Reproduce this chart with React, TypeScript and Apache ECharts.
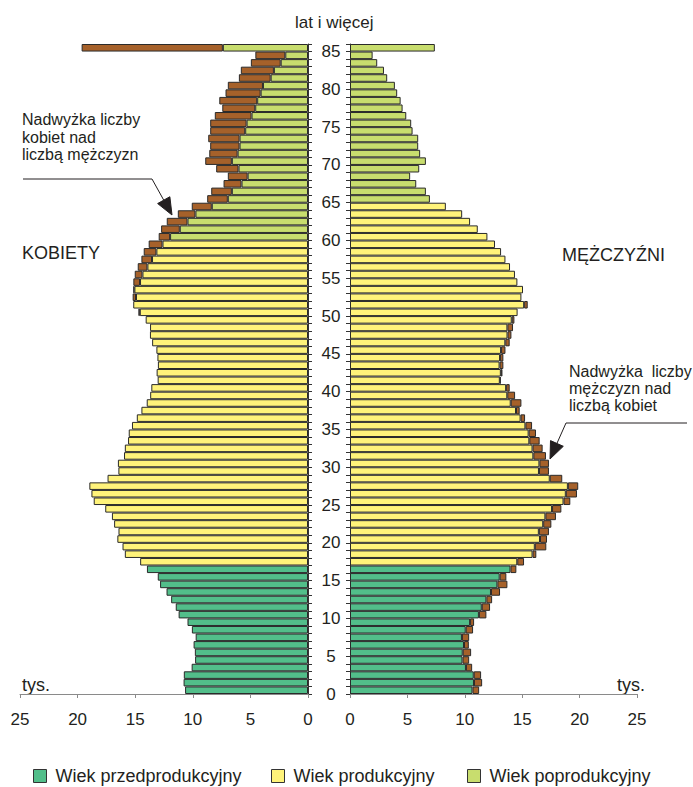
import React, { useEffect, useRef } from "react";
import * as echarts from "echarts";

// Age categories 0..85 (85 = "85 lat i więcej")
const ages: string[] = Array.from({ length: 86 }, (_, i) => String(i));

// Population in thousands (tys.)
const women: number[] = [
  10.67, 10.8, 10.78, 10.1, 9.8, 9.82, 9.93, 9.75, 10.08, 10.46,
  11.23, 11.48, 11.88, 12.28, 12.84, 13.04, 13.98, 14.57, 15.9, 16.1,
  16.55, 16.45, 16.83, 17.02, 17.6, 18.6, 18.8, 18.98, 17.4, 16.46,
  16.5, 15.97, 15.9, 15.62, 15.56, 15.28, 14.86, 14.46, 14.0, 13.7,
  13.6, 13.05, 13.14, 13.03, 13.07, 13.16, 13.53, 13.72, 13.71, 14.09,
  14.72, 15.17, 15.22, 15.16, 15.16, 15.04, 14.78, 14.46, 14.26, 13.83,
  12.96, 12.75, 12.26, 11.3, 10.09, 8.75, 8.4, 7.33, 6.96, 7.97,
  8.92, 8.57, 8.49, 8.66, 8.49, 8.49, 8.09, 7.44, 7.7, 7.16,
  6.96, 6.0, 5.83, 4.96, 4.57, 19.65,
];

const men: number[] = [
  11.25, 11.51, 11.42, 10.64, 10.38, 10.55, 10.35, 10.38, 10.72, 10.81,
  11.88, 12.2, 12.38, 13.07, 13.71, 13.62, 14.49, 15.16, 16.23, 17.1,
  17.16, 17.33, 17.54, 17.94, 18.41, 19.19, 19.77, 19.88, 18.49, 17.33,
  17.33, 17.07, 16.78, 16.52, 16.2, 15.86, 15.25, 14.78, 14.93, 14.38,
  13.91, 13.13, 13.28, 13.36, 13.36, 13.54, 13.91, 14.06, 14.2, 14.32,
  14.6, 15.48, 14.93, 15.07, 14.58, 14.37, 13.94, 13.54, 13.16, 12.63,
  11.97, 11.13, 10.46, 9.77, 8.35, 6.96, 6.61, 5.77, 5.24, 6.03,
  6.61, 6.11, 5.94, 5.94, 5.45, 5.33, 4.9, 4.58, 4.41, 4.11,
  3.91, 3.24, 2.96, 2.37, 1.97, 7.39,
];

// Last age of pre-productive group, and last age of productive group per sex
const preProdLastAge = 16;
const womenProdLastAge = 59;
const menProdLastAge = 64;

const groupNames: string[] = ["Wiek przedprodukcyjny", "Wiek produkcyjny", "Wiek poprodukcyjny"];
const groupColors: string[] = ["#52BE8A", "#FFF37A", "#C8DD6E"];
const excessColor = "#A6612A";
const borderColor = "#2a2a2a";
const textColor = "#231f20";
const font = "'Liberation Sans', Arial, Helvetica, sans-serif";

const round2 = (v: number) => Math.round(v * 100) / 100;

function groupOf(age: number, prodLast: number) {
  if (age <= preProdLastAge) return 0;
  if (age <= prodLast) return 1;
  return 2;
}

function buildSide(own: number[], other: number[], prodLast: number, xi: number, yi: number, stack: string) {
  const series: any[] = [];
  for (let g = 0; g < 3; g++) {
    series.push({
      type: "bar",
      name: groupNames[g],
      xAxisIndex: xi,
      yAxisIndex: yi,
      stack,
      barCategoryGap: "0%",
      barGap: "0%",
      silent: true,
      itemStyle: { color: groupColors[g], borderColor, borderWidth: 1 },
      data: own.map((v, i) => (groupOf(i, prodLast) === g ? round2(Math.min(v, other[i])) : "-")),
    });
  }
  series.push({
    type: "bar",
    name: "Nadwyżka",
    xAxisIndex: xi,
    yAxisIndex: yi,
    stack,
    barCategoryGap: "0%",
    barGap: "0%",
    silent: true,
    itemStyle: { color: excessColor, borderColor, borderWidth: 1 },
    data: own.map((v, i) => (v > other[i] ? round2(v - other[i]) : "-")),
  });
  return series;
}

function arrowHead(tip: [number, number], from: [number, number], len: number, half: number) {
  const dx = tip[0] - from[0];
  const dy = tip[1] - from[1];
  const l = Math.sqrt(dx * dx + dy * dy);
  const ux = dx / l;
  const uy = dy / l;
  const bx = tip[0] - ux * len;
  const by = tip[1] - uy * len;
  const nx = -uy;
  const ny = ux;
  return {
    base: [bx, by] as [number, number],
    points: [
      [bx + nx * half, by + ny * half],
      [bx - nx * half, by - ny * half],
      tip,
    ],
  };
}

export default function App() {
  const ref = useRef<HTMLDivElement>(null);

  useEffect(() => {
    if (!ref.current) return;
    const chart = echarts.init(ref.current, undefined, { renderer: "svg" });

    const gridTop = 44;
    const gridHeight = 650;

    const xAxisCommon = {
      type: "value",
      min: 0,
      max: 25,
      interval: 5,
      splitLine: { show: false },
      axisLine: { show: true, onZero: false, lineStyle: { color: "#8a8a8a", width: 1 } },
      axisTick: { show: true, length: 4, lineStyle: { color: "#8a8a8a" } },
      axisLabel: { fontSize: 17, color: textColor, margin: 17, fontFamily: font },
    };

    const leftArrow = arrowHead([172, 215], [152, 179], 17, 7);
    const rightArrow = arrowHead([550, 459], [566, 423], 17, 7);

    const option: any = {
      animation: false,
      textStyle: { fontFamily: font, color: textColor },
      grid: [
        { left: 20, top: gridTop, width: 288, height: gridHeight, containLabel: false, outerBoundsMode: "none" },
        { left: 350, top: gridTop, width: 287, height: gridHeight, containLabel: false, outerBoundsMode: "none" },
      ],
      xAxis: [
        { ...xAxisCommon, gridIndex: 0, inverse: true },
        { ...xAxisCommon, gridIndex: 1 },
      ],
      yAxis: [
        {
          type: "category",
          gridIndex: 0,
          data: ages,
          position: "right",
          axisLine: { show: true, onZero: false, lineStyle: { color: "#333", width: 1 } },
          axisTick: { show: true, inside: false, length: 4, interval: 0, lineStyle: { color: "#333" } },
          axisLabel: { show: false },
          splitLine: { show: false },
        },
        {
          type: "category",
          gridIndex: 1,
          data: ages,
          position: "left",
          axisLine: { show: true, onZero: false, lineStyle: { color: "#333", width: 1 } },
          axisTick: { show: true, inside: false, length: 4, interval: 0, lineStyle: { color: "#333" } },
          axisLabel: { show: false },
          splitLine: { show: false },
        },
        {
          type: "value",
          gridIndex: 1,
          min: 0,
          max: 86,
          interval: 5,
          position: "left",
          axisLine: { show: false, onZero: false },
          axisTick: { show: false },
          splitLine: { show: false },
          axisLabel: {
            margin: 19,
            align: "center",
            fontSize: 17,
            color: textColor,
            fontFamily: font,
            formatter: (v: number) => (v % 5 === 0 && v <= 85 ? String(v) : ""),
          },
        },
      ],
      legend: groupNames.map((name, i) => ({
        data: [name],
        left: [33, 271, 467][i],
        top: 767,
        orient: "horizontal",
        itemWidth: 13,
        itemHeight: 13,
        itemGap: 0,
        padding: 0,
        selectedMode: false,
        icon: "rect",
        itemStyle: { borderColor: "#333", borderWidth: 1 },
        textStyle: { fontSize: 18, color: textColor, fontFamily: font, padding: [0, 0, 0, 4] },
      })),
      series: [
        ...buildSide(women, men, womenProdLastAge, 0, 0, "W"),
        ...buildSide(men, women, menProdLastAge, 1, 1, "M"),
      ],
      graphic: [
        {
          type: "text",
          left: 335 - 40,
          style: { text: "lat i więcej", x: 335, y: 22, fontSize: 17, fill: textColor, fontFamily: font, textAlign: "center", textVerticalAlign: "middle" },
          silent: true,
        },
        {
          type: "text",
          style: { text: "KOBIETY", x: 22, y: 253, fontSize: 18, fill: textColor, fontFamily: font, textAlign: "left", textVerticalAlign: "middle" },
          silent: true,
        },
        {
          type: "text",
          style: { text: "MĘŻCZYŹNI", x: 562, y: 255, fontSize: 18, fill: textColor, fontFamily: font, textAlign: "left", textVerticalAlign: "middle" },
          silent: true,
        },
        {
          type: "text",
          style: { text: "tys.", x: 22, y: 685, fontSize: 18, fill: textColor, fontFamily: font, textAlign: "left", textVerticalAlign: "middle" },
          silent: true,
        },
        {
          type: "text",
          style: { text: "tys.", x: 645, y: 685, fontSize: 18, fill: textColor, fontFamily: font, textAlign: "right", textVerticalAlign: "middle" },
          silent: true,
        },
        {
          type: "text",
          style: {
            text: "Nadwyżka liczby\nkobiet nad\nliczbą mężczyzn",
            x: 22,
            y: 111,
            fontSize: 16,
            lineHeight: 17.5,
            fill: textColor,
            fontFamily: font,
            textAlign: "left",
            textVerticalAlign: "top",
          },
          silent: true,
        },
        {
          type: "text",
          style: {
            text: "Nadwyżka  liczby\nmężczyzn nad\nliczbą kobiet",
            x: 569,
            y: 363,
            fontSize: 16,
            lineHeight: 17,
            fill: textColor,
            fontFamily: font,
            textAlign: "left",
            textVerticalAlign: "top",
          },
          silent: true,
        },
        {
          type: "polyline",
          shape: { points: [[23, 179], [152, 179], leftArrow.base] },
          style: { stroke: "#231f20", lineWidth: 1, fill: null },
          silent: true,
        },
        {
          type: "polygon",
          shape: { points: leftArrow.points },
          style: { fill: "#231f20", stroke: "#231f20", lineWidth: 1 },
          silent: true,
        },
        {
          type: "polyline",
          shape: { points: [[687, 423], [566, 423], rightArrow.base] },
          style: { stroke: "#231f20", lineWidth: 1, fill: null },
          silent: true,
        },
        {
          type: "polygon",
          shape: { points: rightArrow.points },
          style: { fill: "#231f20", stroke: "#231f20", lineWidth: 1 },
          silent: true,
        },
      ],
    };

    chart.setOption(option);
    return () => {
      chart.dispose();
    };
  }, []);

  return (
    <div
      ref={ref}
      style={{ position: "absolute", left: 0, top: 0, width: 693, height: 787, background: "#ffffff" }}
    />
  );
}
